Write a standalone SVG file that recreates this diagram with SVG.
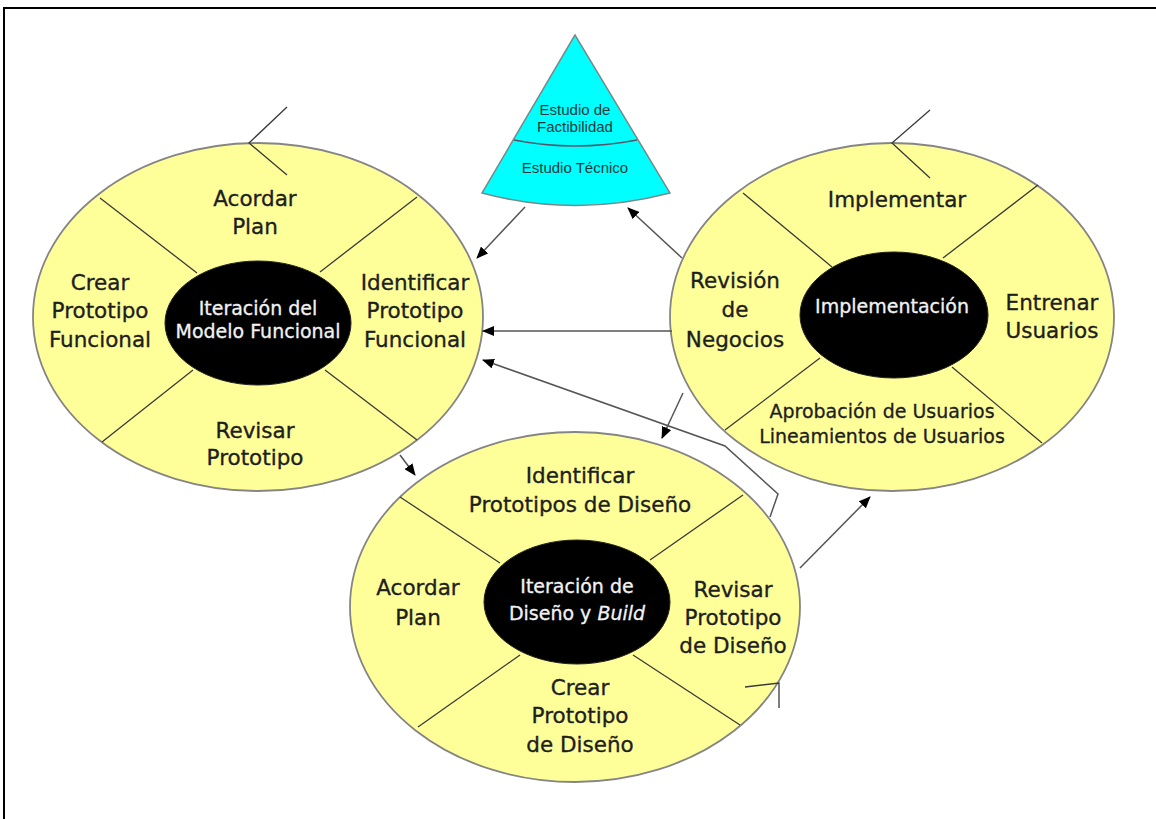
<svg xmlns="http://www.w3.org/2000/svg" width="1156" height="819" viewBox="0 0 1156 819">
<style>
.outer{fill:#FFFF99;stroke:#858585;stroke-width:1.8}
.inner{fill:#000;stroke:#222;stroke-width:1}
.div{stroke:#3a3a3a;stroke-width:1.3;fill:none}
.lbl{font-family:"DejaVu Sans",sans-serif;font-size:21.5px;fill:#1e1e1e;stroke:#1e1e1e;stroke-width:0.35;text-anchor:middle}
.wht{font-family:"DejaVu Sans",sans-serif;font-size:19px;fill:#f2f2f2;stroke:#f2f2f2;stroke-width:0.3;text-anchor:middle}
.sm{font-family:"DejaVu Sans",sans-serif;font-size:19px;fill:#1e1e1e;stroke:#1e1e1e;stroke-width:0.3;text-anchor:middle}
.cone{font-family:"Liberation Sans",sans-serif;font-size:15px;fill:#1a3a3a;text-anchor:middle}
.con{stroke:#555;stroke-width:1.5;fill:none}
</style>
<defs>
<marker id="ah" markerWidth="12" markerHeight="10" refX="11" refY="5" orient="auto" markerUnits="userSpaceOnUse">
<path d="M0,0 L12,5 L0,10 Z" fill="#000"/>
</marker>
</defs>
<rect width="1156" height="819" fill="#fff"/>
<g id="frame" stroke="#000" stroke-width="2" fill="none">
<line x1="3" y1="8" x2="1156" y2="8"/>
<line x1="4" y1="8" x2="4" y2="819"/>
</g>

<g id="cone">
<path d="M575,35 L482,193 Q575,218 670,193 Z" fill="#00FFFF" stroke="#7a8a8a" stroke-width="1.5"/>
<path d="M514,140 Q575,152 637,140" fill="none" stroke="#556" stroke-width="1.3"/>
<text class="cone" x="575" y="115">Estudio de</text>
<text class="cone" x="575" y="132">Factibilidad</text>
<text class="cone" x="575" y="173">Estudio Técnico</text>
</g>

<g id="modelo-funcional">
<ellipse class="outer" cx="258" cy="317" rx="225" ry="174"/>
<line class="div" x1="197" y1="273" x2="100" y2="198"/>
<line class="div" x1="320" y1="272" x2="417" y2="197"/>
<line class="div" x1="193" y1="370" x2="102" y2="442"/>
<line class="div" x1="325" y1="370" x2="417" y2="440"/>
<polyline class="div" points="287,107 249,143 287,175" stroke="#555"/>
<ellipse class="inner" cx="258" cy="323" rx="93" ry="62"/>
<text class="lbl" x="255" y="206">Acordar</text>
<text class="lbl" x="255" y="234">Plan</text>
<text class="lbl" x="100" y="290">Crear</text>
<text class="lbl" x="100" y="318">Prototipo</text>
<text class="lbl" x="100" y="347">Funcional</text>
<text class="lbl" x="415" y="290">Identificar</text>
<text class="lbl" x="415" y="318">Prototipo</text>
<text class="lbl" x="415" y="347">Funcional</text>
<text class="lbl" x="255" y="438">Revisar</text>
<text class="lbl" x="255" y="465">Prototipo</text>
<text class="wht" x="258" y="315">Iteración del</text>
<text class="wht" x="258" y="338">Modelo Funcional</text>
</g>

<g id="implementacion">
<ellipse class="outer" cx="892" cy="317" rx="222" ry="174"/>
<line class="div" x1="832" y1="267" x2="743" y2="193"/>
<line class="div" x1="943" y1="258" x2="1038" y2="185"/>
<line class="div" x1="820" y1="358" x2="725" y2="430"/>
<line class="div" x1="952" y1="367" x2="1042" y2="443"/>
<polyline class="div" points="930,110 892,143 930,178" stroke="#555"/>
<ellipse class="inner" cx="894" cy="315" rx="94" ry="63"/>
<text class="lbl" x="897" y="207">Implementar</text>
<text class="lbl" x="735" y="288">Revisión</text>
<text class="lbl" x="735" y="317">de</text>
<text class="lbl" x="735" y="347">Negocios</text>
<text class="lbl" x="1052" y="310">Entrenar</text>
<text class="lbl" x="1052" y="338">Usuarios</text>
<text class="wht" x="892" y="313">Implementación</text>
<text class="sm" x="882" y="418">Aprobación de Usuarios</text>
<text class="sm" x="882" y="443">Lineamientos de Usuarios</text>
</g>

<g id="diseno-build">
<ellipse class="outer" cx="575" cy="607" rx="225" ry="175"/>
<line class="div" x1="500" y1="563" x2="400" y2="497"/>
<line class="div" x1="650" y1="560" x2="743" y2="495"/>
<line class="div" x1="520" y1="655" x2="418" y2="727"/>
<line class="div" x1="633" y1="655" x2="740" y2="725"/>
<polyline class="div" points="745,687 779,683 779,708" stroke="#555"/>
<ellipse class="inner" cx="577" cy="602" rx="93" ry="62"/>
<text class="lbl" x="580" y="483">Identificar</text>
<text class="lbl" x="580" y="512">Prototipos de Diseño</text>
<text class="lbl" x="418" y="595">Acordar</text>
<text class="lbl" x="418" y="625">Plan</text>
<text class="lbl" x="733" y="597">Revisar</text>
<text class="lbl" x="733" y="625">Prototipo</text>
<text class="lbl" x="733" y="653">de Diseño</text>
<text class="lbl" x="580" y="695">Crear</text>
<text class="lbl" x="580" y="723">Prototipo</text>
<text class="lbl" x="580" y="752">de Diseño</text>
<text class="wht" x="577" y="593">Iteración de</text>
<text class="wht" x="577" y="620">Diseño y <tspan font-style="italic">Build</tspan></text>
</g>

<g id="connectors">
<path class="con" d="M525,207 L477,258" marker-end="url(#ah)"/>
<path class="con" d="M682,258 L628,208" marker-end="url(#ah)"/>
<path class="con" d="M672,331 L483,331" marker-end="url(#ah)"/>
<path class="con" d="M770,517 L778,494 L725,446 L483,360" marker-end="url(#ah)"/>
<path class="con" d="M683,393 L662,438" marker-end="url(#ah)"/>
<path class="con" d="M400,455 L415,475" marker-end="url(#ah)"/>
<path class="con" d="M800,568 L870,497" marker-end="url(#ah)"/>
</g>
</svg>
